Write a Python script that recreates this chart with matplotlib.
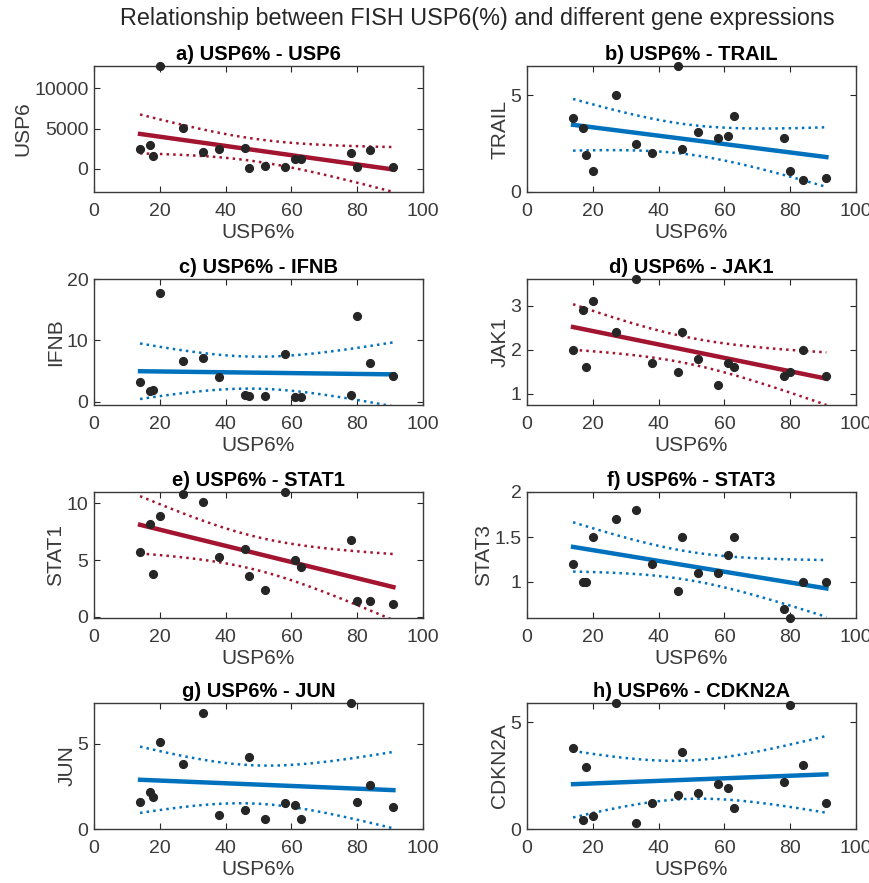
import numpy as np
import matplotlib
matplotlib.use("Agg")
import matplotlib.pyplot as plt

plt.rcParams['font.family'] = ['Liberation Sans', 'DejaVu Sans']

# FISH USP6 percentage (shared x for all panels)
usp6_pct = [14, 17, 18, 20, 27, 33, 38, 46, 47, 52, 58, 61, 63, 78, 80, 84, 91]

genes = ["USP6", "TRAIL", "IFNB", "JAK1", "STAT1", "STAT3", "JUN", "CDKN2A"]
panel_tags = ["a", "b", "c", "d", "e", "f", "g", "h"]

usp6 = [2500, 2900, 1600, 12800, 5100, 2100, 2500, 2600, 100, 400, 200, 1200, 1200, 1900, 200, 2300, 200]
trail = [3.8, 3.3, 1.9, 1.1, 5.0, 2.5, 2.0, 6.5, 2.2, 3.1, 2.8, 2.9, 3.9, 2.8, 1.1, 0.6, 0.7]
ifnb = [3.3, 1.8, 1.9, 17.8, 6.7, 7.1, 4.0, 1.2, 1.0, 1.0, 7.8, 0.8, 0.8, 1.2, 14.0, 6.4, 4.2]
jak1 = [2.0, 2.9, 1.6, 3.1, 2.4, 3.6, 1.7, 1.5, 2.4, 1.8, 1.2, 1.7, 1.6, 1.4, 1.5, 2.0, 1.4]
stat1 = [5.7, 8.2, 3.8, 8.9, 10.8, 10.1, 5.3, 6.0, 3.6, 2.4, 11.0, 5.0, 4.4, 6.8, 1.4, 1.4, 1.1]
stat3 = [1.2, 1.0, 1.0, 1.5, 1.7, 1.8, 1.2, 0.9, 1.5, 1.1, 1.1, 1.3, 1.5, 0.7, 0.6, 1.0, 1.0]
jun = [1.6, 2.2, 1.9, 5.1, 3.8, 6.8, 0.8, 1.1, 4.2, 0.6, 1.5, 1.4, 0.6, 7.4, 1.6, 2.6, 1.3]
cdkn2a = [3.8, 0.4, 2.9, 0.6, 5.9, 0.3, 1.2, 1.6, 3.6, 1.7, 2.1, 1.9, 1.0, 2.2, 5.8, 3.0, 1.2]

expr = [usp6, trail, ifnb, jak1, stat1, stat3, jun, cdkn2a]
significant = [True, False, False, True, True, False, False, False]

ylims = [(-2900, 12800), (0, 6.5), (-0.5, 20), (0.75, 3.6),
         (-0.1, 11.0), (0.6, 2.0), (0, 7.4), (0, 5.9)]
yticks = [[0, 5000, 10000], [0, 5], [0, 10, 20], [1, 2, 3],
          [0, 5, 10], [1, 1.5, 2], [0, 5], [0, 5]]

RED = "#A2142F"
BLUE = "#0072BD"
DARK = "#262626"
T975 = 2.131  # t quantile, 15 dof

W, H = 870, 883
fig = plt.figure(figsize=(W / 100, H / 100), dpi=100)
fig.text(477 / W, 1 - 18 / H, "Relationship between FISH USP6(%) and different gene expressions",
         ha="center", va="center", fontsize=16.8, color=DARK)

lefts = [94, 527]
tops = [66, 279, 492, 703]
aw, ah = 329, 126

x = np.array(usp6_pct, dtype=float)
for i, gene in enumerate(genes):
    r, c = divmod(i, 2)
    ax = fig.add_axes([lefts[c] / W, 1 - (tops[r] + ah) / H, aw / W, ah / H])
    y = np.array(expr[i], dtype=float)
    col = RED if significant[i] else BLUE

    # linear fit with 95% confidence bounds on the mean
    b1, b0 = np.polyfit(x, y, 1)
    xs = np.linspace(x.min(), x.max(), 100)
    yfit = b0 + b1 * xs
    n = len(x)
    resid = y - (b0 + b1 * x)
    s = np.sqrt(np.sum(resid ** 2) / (n - 2))
    se = s * np.sqrt(1 / n + (xs - x.mean()) ** 2 / np.sum((x - x.mean()) ** 2))

    ax.plot(x, y, "o", color=DARK, ms=5.6, zorder=3, clip_on=False)
    ax.plot(xs, yfit, "-", color=col, lw=3.2, zorder=2)
    ax.plot(xs, yfit + T975 * se, ":", color=col, lw=1.8, zorder=2)
    ax.plot(xs, yfit - T975 * se, ":", color=col, lw=1.8, zorder=2)

    ax.set_xlim(0, 100)
    ax.set_ylim(*ylims[i])
    ax.set_xticks([0, 20, 40, 60, 80, 100])
    ax.set_yticks(yticks[i])
    ax.set_yticklabels([f"{v:g}" for v in yticks[i]])
    ax.tick_params(axis="both", direction="in", top=True, right=True, labelsize=14,
                   colors=DARK, labelcolor="#3a3a3a", length=4)
    ax.tick_params(axis="x", pad=8)
    ax.tick_params(axis="y", pad=4)
    for sp in ax.spines.values():
        sp.set_color("#3a3a3a")
        sp.set_linewidth(1.0)
    ax.set_xlabel("USP6%", fontsize=15, color="#3a3a3a", labelpad=2)
    ax.set_ylabel(gene, fontsize=15, color="#3a3a3a", labelpad=1)
    ax.set_title(f"{panel_tags[i]}) USP6% - {gene}", fontsize=14.5, fontweight="bold",
                 color="black", pad=4)

fig.savefig("out.png", dpi=100)
